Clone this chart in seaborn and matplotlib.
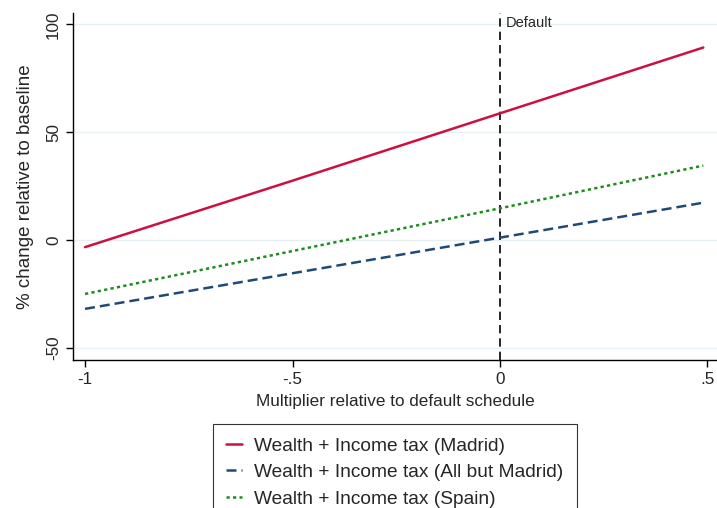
import matplotlib
matplotlib.use("Agg")
import matplotlib.pyplot as plt
import seaborn as sns
import pandas as pd

# Data
multiplier = [-1.0, -0.5, 0.0, 0.49]
madrid = [-3.2, 27.6, 58.8, 89.3]
all_but_madrid = [-31.8, -15.3, 1.2, 17.4]
spain = [-24.9, -5.0, 14.8, 34.6]
labels = ["Wealth + Income tax (Madrid)",
          "Wealth + Income tax (All but Madrid)",
          "Wealth + Income tax (Spain)"]
xticks = [-1, -0.5, 0, 0.5]
xticklabels = ["-1", "-.5", "0", ".5"]
yticks = [-50, 0, 50, 100]

df = pd.concat([
    pd.DataFrame({"x": multiplier, "y": madrid, "series": labels[0]}),
    pd.DataFrame({"x": multiplier, "y": all_but_madrid, "series": labels[1]}),
    pd.DataFrame({"x": multiplier, "y": spain, "series": labels[2]}),
])

sns.set_theme(style="white")
plt.rcParams["font.family"] = ["Liberation Sans", "DejaVu Sans"]

fig = plt.figure(figsize=(7.17, 5.08), dpi=100)
ax = fig.add_axes([73/717, (508-360)/508, (717-73)/717, (360-13)/508])

palette = {labels[0]: "#cc1040", labels[1]: "#1f4a75", labels[2]: "#1e8c1e"}
dashes = {labels[0]: "", labels[1]: (4, 2), labels[2]: (1.3, 1.3)}
sns.lineplot(data=df, x="x", y="y", hue="series", style="series",
             palette=palette, dashes=dashes, linewidth=1.8, ax=ax, legend=True)

ax.axvline(0, color="black", linestyle=(0, (5, 3)), linewidth=1.2, zorder=1)
ax.text(0.015, 103.8, "Default", fontsize=10.5, va="top", ha="left")

ax.set_xlim(-1.029, 0.523)
ax.set_ylim(-55.5, 105.3)
ax.set_xticks(xticks)
ax.set_xticklabels(xticklabels)
ax.set_yticks(yticks)
ax.set_yticklabels([str(v) for v in yticks], rotation=90, va="center")
ax.grid(axis="y", color="#e6eff3", linewidth=1)
ax.grid(axis="x", visible=False)
for s in ["top", "right"]:
    ax.spines[s].set_visible(False)
for s in ["left", "bottom"]:
    ax.spines[s].set_color("black")
    ax.spines[s].set_linewidth(1)
ax.tick_params(axis="both", which="major", direction="out", length=5,
               width=1, color="black", labelsize=12.3, bottom=True, left=True)
ax.set_xlabel("Multiplier relative to default schedule", fontsize=12.3, labelpad=5)
ax.set_ylabel("% change relative to baseline", fontsize=13.5, labelpad=9)

handles, lbls = ax.get_legend_handles_labels()
leg = ax.legend(handles, lbls, loc="upper center", bbox_to_anchor=(0.5, -0.184),
                borderaxespad=0, fontsize=13.8, handlelength=0.8, frameon=True,
                fancybox=False, edgecolor="black", labelspacing=0.47,
                borderpad=0.7, handletextpad=0.65)
leg.get_frame().set_linewidth(0.8)

fig.savefig("out.png", dpi=100)
